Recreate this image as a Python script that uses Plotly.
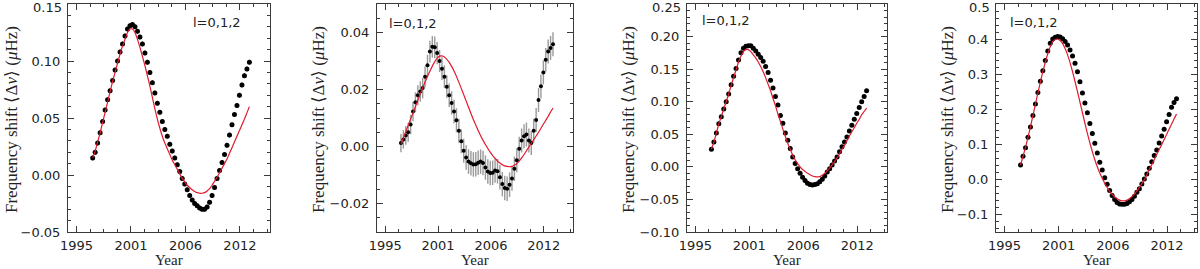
import plotly.graph_objects as go

# ---------------- data ----------------
years = [1997.40, 1997.65, 1997.90, 1998.15, 1998.40, 1998.65, 1998.90, 1999.15, 1999.40, 1999.65,
         1999.90, 2000.15, 2000.40, 2000.65, 2000.90, 2001.15, 2001.40, 2001.65, 2001.90, 2002.15,
         2002.40, 2002.65, 2002.90, 2003.15, 2003.40, 2003.65, 2003.90, 2004.15, 2004.40, 2004.65,
         2004.90, 2005.15, 2005.40, 2005.65, 2005.90, 2006.15, 2006.40, 2006.65, 2006.90, 2007.15,
         2007.40, 2007.65, 2007.90, 2008.15, 2008.40, 2008.65, 2008.90, 2009.15, 2009.40, 2009.65,
         2009.90, 2010.15, 2010.40, 2010.65, 2010.90, 2011.15, 2011.40, 2011.65, 2011.90, 2012.15,
         2012.40, 2012.65, 2012.90, 2013.15]

shift_p1 = [0.015, 0.020, 0.028, 0.037, 0.047, 0.057, 0.066, 0.074, 0.083, 0.092,
            0.100, 0.108, 0.115, 0.122, 0.128, 0.131, 0.132, 0.130, 0.126, 0.121,
            0.115, 0.107, 0.099, 0.090, 0.081, 0.072, 0.063, 0.055, 0.047, 0.040,
            0.034, 0.027, 0.021, 0.015, 0.009, 0.003, -0.003, -0.008, -0.013, -0.018,
            -0.022, -0.025, -0.027, -0.029, -0.030, -0.030, -0.028, -0.024, -0.018, -0.011,
            -0.003, 0.004, 0.011, 0.018, 0.026, 0.035, 0.044, 0.053, 0.061, 0.070,
            0.079, 0.087, 0.093, 0.099]
err_p1 = [0.0020, 0.0020, 0.0020, 0.0020, 0.0020, 0.0020, 0.0020, 0.0020, 0.0020, 0.0020,
          0.0020, 0.0020, 0.0020, 0.0020, 0.0020, 0.0020, 0.0020, 0.0020, 0.0020, 0.0020,
          0.0020, 0.0020, 0.0020, 0.0020, 0.0020, 0.0020, 0.0020, 0.0020, 0.0020, 0.0020,
          0.0020, 0.0020, 0.0020, 0.0020, 0.0020, 0.0020, 0.0020, 0.0020, 0.0020, 0.0020,
          0.0020, 0.0020, 0.0020, 0.0020, 0.0020, 0.0020, 0.0020, 0.0020, 0.0020, 0.0020,
          0.0020, 0.0020, 0.0020, 0.0020, 0.0020, 0.0020, 0.0020, 0.0020, 0.0020, 0.0020,
          0.0020, 0.0020, 0.0020, 0.0020]
model_p1 = [0.015, 0.021, 0.029, 0.037, 0.046, 0.055, 0.064, 0.073, 0.082, 0.090,
            0.098, 0.106, 0.113, 0.119, 0.125, 0.128, 0.128, 0.125, 0.119, 0.112,
            0.104, 0.096, 0.087, 0.078, 0.068, 0.058, 0.049, 0.041, 0.034, 0.028,
            0.023, 0.018, 0.013, 0.009, 0.005, 0.001, -0.003, -0.006, -0.009, -0.011,
            -0.013, -0.0145, -0.0155, -0.016, -0.016, -0.0155, -0.014, -0.012, -0.009, -0.0055,
            -0.002, 0.002, 0.006, 0.010, 0.014, 0.019, 0.024, 0.029, 0.034, 0.039,
            0.044, 0.049, 0.0545, 0.060]

shift_p2 = [0.0012, 0.0025, 0.0039, 0.0050, 0.0077, 0.0123, 0.0155, 0.0180, 0.0193, 0.0205,
            0.0245, 0.0285, 0.0333, 0.0350, 0.0348, 0.0328, 0.0300, 0.0273, 0.0245, 0.0210,
            0.0180, 0.0153, 0.0123, 0.0092, 0.0055, 0.0018, -0.0015, -0.0039, -0.0053, -0.0059,
            -0.0063, -0.0062, -0.0057, -0.0053, -0.0058, -0.0074, -0.0088, -0.0093, -0.0092, -0.0084,
            -0.0087, -0.0108, -0.0132, -0.0146, -0.0148, -0.0134, -0.0112, -0.0078, -0.0048, -0.0008,
            0.0021, 0.0036, 0.0042, 0.0021, 0.0012, 0.0055, 0.0093, 0.0163, 0.0211, 0.0260,
            0.0304, 0.0333, 0.0346, 0.0359]
err_p2 = [0.0032, 0.0032, 0.0033, 0.0033, 0.0034, 0.0034, 0.0035, 0.0035, 0.0036, 0.0036,
          0.0037, 0.0037, 0.0038, 0.0038, 0.0038, 0.0039, 0.0039, 0.0040, 0.0040, 0.0040,
          0.0041, 0.0041, 0.0041, 0.0042, 0.0042, 0.0042, 0.0042, 0.0043, 0.0043, 0.0043,
          0.0043, 0.0043, 0.0043, 0.0043, 0.0043, 0.0043, 0.0043, 0.0043, 0.0043, 0.0043,
          0.0043, 0.0043, 0.0043, 0.0043, 0.0043, 0.0043, 0.0043, 0.0043, 0.0042, 0.0042,
          0.0042, 0.0042, 0.0042, 0.0042, 0.0042, 0.0042, 0.0042, 0.0042, 0.0042, 0.0042,
          0.0042, 0.0042, 0.0042, 0.0042]
model_p2 = [0.0010, 0.0030, 0.0052, 0.0074, 0.0096, 0.0118, 0.0140, 0.0162, 0.0184, 0.0206,
            0.0226, 0.0246, 0.0264, 0.0282, 0.0298, 0.0310, 0.0317, 0.0318, 0.0314, 0.0306,
            0.0295, 0.0281, 0.0265, 0.0246, 0.0225, 0.0204, 0.0182, 0.0160, 0.0138, 0.0116,
            0.0095, 0.0075, 0.0056, 0.0038, 0.0022, 0.0007, -0.0007, -0.0020, -0.0032, -0.0042,
            -0.0051, -0.0058, -0.0064, -0.0068, -0.0070, -0.0071, -0.0070, -0.0066, -0.0060, -0.0051,
            -0.0040, -0.0028, -0.0015, -0.0002, 0.0011, 0.0024, 0.0037, 0.0050, 0.0064, 0.0078,
            0.0092, 0.0106, 0.0121, 0.0135]

shift_p3 = [0.027, 0.038, 0.052, 0.066, 0.077, 0.089, 0.100, 0.112, 0.126, 0.139,
            0.151, 0.164, 0.175, 0.182, 0.185, 0.186, 0.186, 0.182, 0.178, 0.173,
            0.168, 0.162, 0.154, 0.145, 0.133, 0.121, 0.108, 0.095, 0.079, 0.067,
            0.052, 0.041, 0.028, 0.015, 0.005, -0.003, -0.010, -0.016, -0.021, -0.025,
            -0.027, -0.028, -0.027, -0.026, -0.023, -0.019, -0.014, -0.008, -0.003, 0.003,
            0.009, 0.015, 0.023, 0.031, 0.038, 0.046, 0.055, 0.064, 0.073, 0.082,
            0.091, 0.100, 0.108, 0.117]
err_p3 = [0.0025, 0.0025, 0.0025, 0.0025, 0.0025, 0.0025, 0.0025, 0.0025, 0.0025, 0.0025,
          0.0025, 0.0025, 0.0025, 0.0025, 0.0025, 0.0025, 0.0025, 0.0025, 0.0025, 0.0025,
          0.0025, 0.0025, 0.0025, 0.0025, 0.0025, 0.0025, 0.0025, 0.0025, 0.0025, 0.0025,
          0.0025, 0.0025, 0.0025, 0.0025, 0.0025, 0.0025, 0.0025, 0.0025, 0.0025, 0.0025,
          0.0025, 0.0025, 0.0025, 0.0025, 0.0025, 0.0025, 0.0025, 0.0025, 0.0025, 0.0025,
          0.0025, 0.0025, 0.0025, 0.0025, 0.0025, 0.0025, 0.0025, 0.0025, 0.0025, 0.0025,
          0.0025, 0.0025, 0.0025, 0.0025]
model_p3 = [0.027, 0.038, 0.052, 0.066, 0.077, 0.089, 0.100, 0.112, 0.125, 0.137,
            0.149, 0.161, 0.170, 0.177, 0.180, 0.180, 0.177, 0.172, 0.167, 0.161,
            0.154, 0.146, 0.137, 0.127, 0.117, 0.105, 0.094, 0.081, 0.070, 0.058,
            0.047, 0.036, 0.027, 0.018, 0.011, 0.005, 0.000, -0.004, -0.007, -0.010,
            -0.012, -0.014, -0.015, -0.0155, -0.015, -0.013, -0.010, -0.006, -0.002, 0.003,
            0.008, 0.014, 0.020, 0.027, 0.033, 0.040, 0.047, 0.054, 0.060, 0.067,
            0.073, 0.080, 0.085, 0.090]

shift_p4 = [0.041, 0.066, 0.090, 0.120, 0.149, 0.182, 0.215, 0.248, 0.280, 0.310,
            0.339, 0.366, 0.388, 0.400, 0.405, 0.407, 0.406, 0.401, 0.393, 0.383,
            0.369, 0.352, 0.331, 0.307, 0.278, 0.246, 0.218, 0.190, 0.159, 0.131,
            0.103, 0.075, 0.049, 0.027, 0.005, -0.014, -0.032, -0.046, -0.057, -0.066,
            -0.070, -0.071, -0.071, -0.069, -0.064, -0.057, -0.048, -0.037, -0.027, -0.013,
            0.001, 0.015, 0.032, 0.050, 0.068, 0.084, 0.104, 0.124, 0.143, 0.164,
            0.185, 0.206, 0.219, 0.230]
err_p4 = [0.005, 0.005, 0.005, 0.005, 0.005, 0.005, 0.005, 0.005, 0.005, 0.005,
          0.005, 0.005, 0.005, 0.005, 0.005, 0.005, 0.005, 0.005, 0.005, 0.005,
          0.005, 0.005, 0.005, 0.005, 0.005, 0.005, 0.005, 0.005, 0.005, 0.005,
          0.005, 0.005, 0.005, 0.005, 0.005, 0.005, 0.005, 0.005, 0.005, 0.005,
          0.005, 0.005, 0.005, 0.005, 0.005, 0.005, 0.005, 0.005, 0.005, 0.005,
          0.005, 0.005, 0.005, 0.005, 0.005, 0.005, 0.005, 0.005, 0.005, 0.005,
          0.005, 0.005, 0.005, 0.005]
model_p4 = [0.041, 0.066, 0.091, 0.120, 0.150, 0.182, 0.214, 0.246, 0.277, 0.307,
            0.334, 0.358, 0.378, 0.392, 0.399, 0.400, 0.396, 0.387, 0.373, 0.355,
            0.333, 0.307, 0.279, 0.250, 0.220, 0.190, 0.160, 0.131, 0.104, 0.079,
            0.056, 0.036, 0.018, 0.003, -0.011, -0.023, -0.034, -0.043, -0.050, -0.055,
            -0.059, -0.061, -0.061, -0.059, -0.055, -0.049, -0.042, -0.033, -0.023, -0.012,
            -0.001, 0.013, 0.028, 0.042, 0.056, 0.071, 0.085, 0.099, 0.114, 0.128,
            0.143, 0.157, 0.172, 0.186]

year_tickvals = [1995.773, 2001.247, 2006.722, 2012.197]
year_ticktext = ["1995", "2001", "2006", "2012"]
x_range = [1994.92, 2015.22]

# y tick values / labels per panel
yticks_p1 = [-0.05, 0.00, 0.05, 0.10, 0.15]
ylabels_p1 = ["−0.05", "0.00", "0.05", "0.10", "0.15"]
yticks_p2 = [-0.02, 0.00, 0.02, 0.04]
ylabels_p2 = ["−0.02", "0.00", "0.02", "0.04"]
yticks_p3 = [-0.10, -0.05, 0.00, 0.05, 0.10, 0.15, 0.20, 0.25]
ylabels_p3 = ["−0.10", "−0.05", "0.00", "0.05", "0.10", "0.15", "0.20", "0.25"]
yticks_p4 = [-0.1, 0.0, 0.1, 0.2, 0.3, 0.4, 0.5]
ylabels_p4 = ["−0.1", "0.0", "0.1", "0.2", "0.3", "0.4", "0.5"]

panels = [
    dict(shift=shift_p1, err=err_p1, model=model_p1, yr=[-0.05, 0.15], tv=yticks_p1, tt=ylabels_p1,
         top_at_edge=True, mdt=0.01, err_col="black", msize=5, label_x=217, label_y=22),
    dict(shift=shift_p2, err=err_p2, model=model_p2, yr=[-0.03, 0.05], tv=yticks_p2, tt=ylabels_p2,
         top_at_edge=False, mdt=0.005, err_col="#9a9a9a", msize=4, label_x=413, label_y=24),
    dict(shift=shift_p3, err=err_p3, model=model_p3, yr=[-0.10, 0.25], tv=yticks_p3, tt=ylabels_p3,
         top_at_edge=True, mdt=0.01, err_col="black", msize=5, label_x=726, label_y=20),
    dict(shift=shift_p4, err=err_p4, model=model_p4, yr=[-0.15, 0.50], tv=yticks_p4, tt=ylabels_p4,
         top_at_edge=True, mdt=0.02, err_col="black", msize=5, label_x=1034, label_y=23),
]

W, H = 1200, 269
x_px = [(68, 270), (377, 573), (687, 887), (996, 1197)]
y_top, y_bot = 4, 232
title_x = [11, 318, 628, 947]

fig = go.Figure()
axcol = "#3a3a3a"
tickfont = dict(family="DejaVu Sans", size=13, color="#222")

for k, p in enumerate(panels):
    n = "" if k == 0 else str(k + 1)
    xa, ya = "x" + n, "y" + n
    fig.add_trace(go.Scatter(
        x=years, y=p["shift"], mode="markers", xaxis=xa, yaxis=ya,
        marker=dict(color="black", size=p["msize"], symbol="circle"),
        error_y=dict(type="data", array=p["err"], color=p["err_col"],
                     thickness=1.4 if k == 1 else 1, width=0),
        showlegend=False))
    fig.add_trace(go.Scatter(
        x=years, y=p["model"], mode="lines", xaxis=xa, yaxis=ya,
        line=dict(color="rgb(225,25,45)", width=1.2, shape="spline", smoothing=0.6),
        showlegend=False))
    x0, x1 = x_px[k]
    fig.layout["xaxis" + n] = dict(
        domain=[x0 / W, x1 / W], range=x_range, anchor=ya, automargin=False,
        tickmode="array", tickvals=year_tickvals, ticktext=year_ticktext,
        ticks="inside", ticklen=6, tickcolor=axcol, tickwidth=1,
        showline=True, linecolor=axcol, linewidth=1, mirror="ticks",
        showgrid=False, zeroline=False, tickfont=tickfont, ticklabelstandoff=1,
        ticklabeloverflow="allow",
        minor=dict(ticks="inside", ticklen=3, tickcolor=axcol, tickmode="linear",
                   tick0=1995.773, dtick=1.36886, showgrid=False))
    # a label sitting exactly on the top edge is drawn just below it so it is not clipped
    shown = list(p["tt"][:-1]) + [""] if p["top_at_edge"] else list(p["tt"])
    fig.layout["yaxis" + n] = dict(
        domain=[1 - y_bot / H, 1 - y_top / H], range=p["yr"], anchor=xa, automargin=False,
        tickmode="array", tickvals=p["tv"], ticktext=shown,
        ticks="inside", ticklen=6, tickcolor=axcol, tickwidth=1,
        showline=True, linecolor=axcol, linewidth=1, mirror="ticks",
        showgrid=False, zeroline=False, tickfont=tickfont, ticklabelstandoff=4,
        ticklabeloverflow="allow",
        minor=dict(ticks="inside", ticklen=3, tickcolor=axcol, tickmode="linear",
                   tick0=0, dtick=p["mdt"], showgrid=False))
    if p["top_at_edge"]:
        fig.add_annotation(text=p["tt"][-1], xref="paper", yref="paper",
                           x=(x0 - 4) / W, y=1 - 8 / H, xanchor="right", yanchor="middle",
                           showarrow=False, font=tickfont)
    fig.add_annotation(text="Frequency shift ⟨Δ<i>ν</i>⟩ (<i>μ</i>Hz)", xref="paper", yref="paper",
                       x=title_x[k] / W, y=1 - 120 / H, xanchor="center", yanchor="middle",
                       textangle=-90, showarrow=False,
                       font=dict(family="Liberation Serif", size=17, color="#222"))
    fig.add_annotation(text="Year", xref="paper", yref="paper",
                       x=(x0 + x1) / 2 / W, y=0, xanchor="center", yanchor="bottom",
                       borderpad=0, showarrow=False,
                       font=dict(family="Liberation Serif", size=15, color="#222"))
    fig.add_annotation(text="l=0,1,2", xref="paper", yref="paper",
                       x=p["label_x"] / W, y=1 - p["label_y"] / H, xanchor="center", yanchor="middle",
                       showarrow=False, font=dict(family="DejaVu Sans", size=13, color="#222"))

fig.update_layout(width=W, height=H, margin=dict(l=0, r=0, t=0, b=0, pad=0), autosize=False,
                  paper_bgcolor="white", plot_bgcolor="white")
fig.write_html("out.html", config={"displayModeBar": False},
               post_script="document.body.style.margin='0px';document.body.style.overflow='hidden';")
